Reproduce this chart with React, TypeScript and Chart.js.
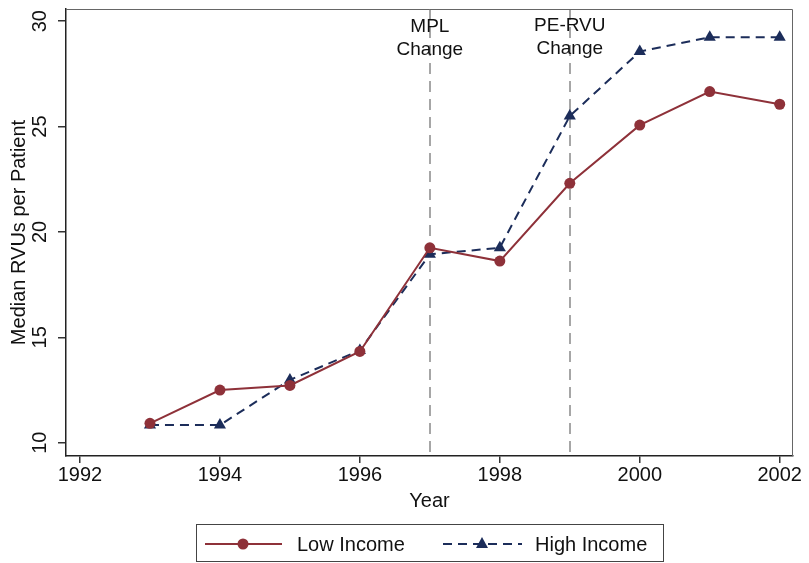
import React, { useEffect, useRef } from "react";
import { Chart, registerables } from "chart.js";

Chart.register(...registerables);

const years = [1993, 1994, 1995, 1996, 1997, 1998, 1999, 2000, 2001, 2002];
const lowIncome = [10.92, 12.5, 12.72, 14.33, 19.25, 18.62, 22.31, 25.07, 26.66, 26.06];
const highIncome = [10.84, 10.84, 12.98, 14.38, 18.94, 19.25, 25.5, 28.56, 29.24, 29.24];
const xTicks = [1992, 1994, 1996, 1998, 2000, 2002];
const yTicks = [10, 15, 20, 25, 30];
const events = [
  { year: 1997, lines: ["MPL", "Change"] },
  { year: 1999, lines: ["PE-RVU", "Change"] },
];
const seriesNames = ["Low Income", "High Income"];

const RED = "#8e3139";
const NAVY = "#1c2d5a";
const FONT = "'Liberation Sans', Arial, sans-serif";

const customPlugin = {
  id: "custom",
  beforeDatasetsDraw(chart: any) {
    const { ctx, chartArea, scales } = chart;
    const x = scales.x;
    ctx.save();
    ctx.strokeStyle = "#a6a6a6";
    ctx.lineWidth = 2;
    ctx.setLineDash([11, 7]);
    events.forEach((e) => {
      const px = Math.round(x.getPixelForValue(e.year));
      ctx.beginPath();
      ctx.moveTo(px, chartArea.top);
      ctx.lineTo(px, chartArea.bottom);
      ctx.stroke();
    });
    ctx.setLineDash([]);
    ctx.fillStyle = "#111";
    ctx.font = `19px ${FONT}`;
    ctx.textAlign = "center";
    ctx.textBaseline = "alphabetic";
    events.forEach((e, i) => {
      const px = x.getPixelForValue(e.year);
      const base = i === 0 ? 32 : 31;
      e.lines.forEach((t, j) => {
        ctx.fillText(t, px, base + j * 23);
      });
    });
    ctx.restore();
  },
  afterDraw(chart: any) {
    const { ctx, chartArea, scales } = chart;
    const y = scales.y;
    ctx.save();
    // box
    ctx.strokeStyle = "#666";
    ctx.lineWidth = 1;
    ctx.beginPath();
    ctx.moveTo(chartArea.left, chartArea.top + 0.5);
    ctx.lineTo(chartArea.right - 0.5, chartArea.top + 0.5);
    ctx.lineTo(chartArea.right - 0.5, chartArea.bottom);
    ctx.stroke();
    // y tick labels rotated
    ctx.fillStyle = "#111";
    ctx.font = `20px ${FONT}`;
    ctx.textAlign = "center";
    ctx.textBaseline = "alphabetic";
    yTicks.forEach((v) => {
      const py = y.getPixelForValue(v);
      ctx.save();
      ctx.translate(46, py);
      ctx.rotate(-Math.PI / 2);
      ctx.fillText(String(v), 0, 0);
      ctx.restore();
    });
    // y title
    ctx.save();
    ctx.translate(25, (chartArea.top + chartArea.bottom) / 2);
    ctx.rotate(-Math.PI / 2);
    ctx.fillText("Median RVUs per Patient", 0, 0);
    ctx.restore();
    // x title
    ctx.fillText("Year", (chartArea.left + chartArea.right) / 2, 507);
    // legend
    ctx.strokeStyle = "#444";
    ctx.lineWidth = 1;
    ctx.strokeRect(196.5, 524.5, 467, 37);
    const ly = 544;
    ctx.lineWidth = 2;
    ctx.strokeStyle = RED;
    ctx.beginPath();
    ctx.moveTo(205, ly);
    ctx.lineTo(282, ly);
    ctx.stroke();
    ctx.fillStyle = RED;
    ctx.beginPath();
    ctx.arc(243, ly, 5.5, 0, Math.PI * 2);
    ctx.fill();
    ctx.strokeStyle = NAVY;
    ctx.setLineDash([9, 6]);
    ctx.beginPath();
    ctx.moveTo(443, ly);
    ctx.lineTo(522, ly);
    ctx.stroke();
    ctx.setLineDash([]);
    ctx.fillStyle = NAVY;
    ctx.beginPath();
    ctx.moveTo(482, ly - 7);
    ctx.lineTo(488, ly + 4);
    ctx.lineTo(476, ly + 4);
    ctx.closePath();
    ctx.fill();
    ctx.fillStyle = "#111";
    ctx.textAlign = "left";
    ctx.textBaseline = "middle";
    ctx.fillText(seriesNames[0], 297, ly + 1);
    ctx.fillText(seriesNames[1], 535, ly + 1);
    ctx.restore();
  },
};

export default function App() {
  const ref = useRef<HTMLCanvasElement>(null);
  useEffect(() => {
    if (!ref.current) return;
    const chart = new Chart(ref.current, {
      type: "line",
      data: {
        datasets: [
          {
            label: seriesNames[0],
            data: years.map((yr, i) => ({ x: yr, y: lowIncome[i] })),
            borderColor: RED,
            backgroundColor: RED,
            borderWidth: 2,
            pointStyle: "circle",
            pointRadius: 5.5,
            pointBorderWidth: 0,
            tension: 0,
          },
          {
            label: seriesNames[1],
            data: years.map((yr, i) => ({ x: yr, y: highIncome[i] })),
            borderColor: NAVY,
            backgroundColor: NAVY,
            borderWidth: 2,
            borderDash: [9, 6],
            pointStyle: "triangle",
            pointRadius: 7,
            pointBorderWidth: 0,
            tension: 0,
          },
        ],
      },
      options: {
        animation: false,
        responsive: false,
        maintainAspectRatio: false,
        layout: { padding: { top: 9, right: 16, left: 0, bottom: 0 } },
        plugins: { legend: { display: false }, tooltip: { enabled: false } },
        scales: {
          x: {
            type: "linear",
            min: 1991.8,
            max: 2002.19,
            afterBuildTicks: (s: any) => {
              s.ticks = xTicks.map((v) => ({ value: v }));
            },
            afterFit: (s: any) => {
              s.height = 107;
            },
            ticks: {
              callback: (v: any) => String(v),
              color: "#111",
              font: { family: FONT, size: 20 },
              padding: 0,
              maxRotation: 0,
              autoSkip: false,
            },
            grid: {
              drawOnChartArea: false,
              drawTicks: true,
              tickLength: 7,
              color: "#333",
              lineWidth: 1.5,
            },
            border: { display: true, color: "#222", width: 1.5 },
          },
          y: {
            type: "linear",
            min: 9.37,
            max: 30.58,
            afterBuildTicks: (s: any) => {
              s.ticks = yTicks.map((v) => ({ value: v }));
            },
            afterFit: (s: any) => {
              s.width = 66;
            },
            ticks: { display: false },
            grid: {
              drawOnChartArea: false,
              drawTicks: true,
              tickLength: 8,
              color: "#333",
              lineWidth: 1.5,
            },
            border: { display: true, color: "#222", width: 1.5 },
          },
        },
      },
      plugins: [customPlugin],
    } as any);
    return () => chart.destroy();
  }, []);
  return (
    <div style={{ position: "fixed", left: 0, top: 0, width: 809, height: 563, background: "#fff" }}>
      <canvas ref={ref} width={809} height={563} style={{ width: 809, height: 563, display: "block" }} />
    </div>
  );
}
